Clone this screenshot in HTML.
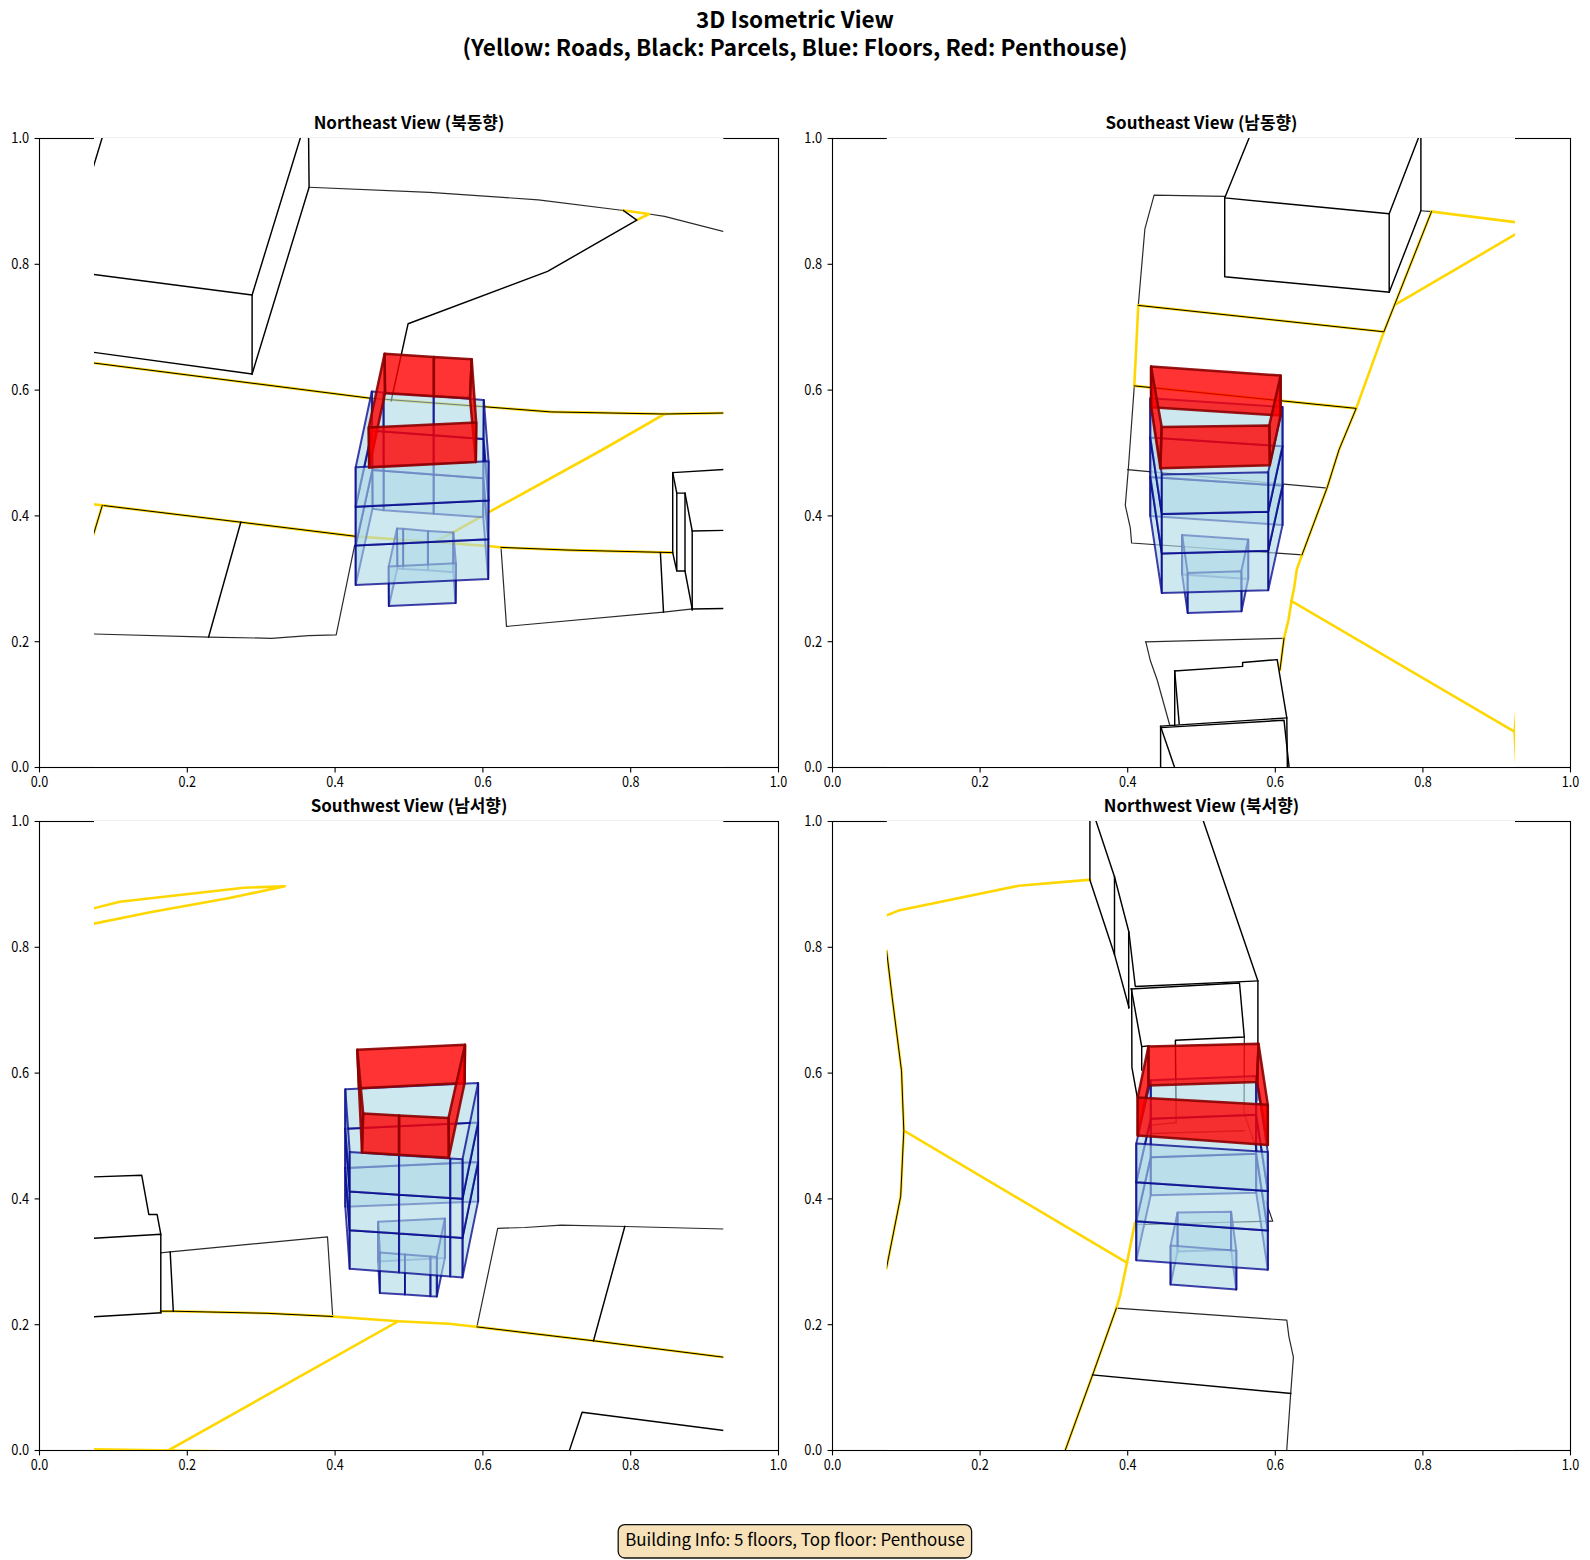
<!DOCTYPE html><html><head><meta charset="utf-8"><title>3D Isometric View</title><style>html,body{margin:0;padding:0;background:#fff;overflow:hidden}svg{display:block}</style></head><body><svg width="1590" height="1560" viewBox="0 0 1590 1560">
<style>.tk{font-family:"Noto Sans CJK KR", "Liberation Sans", sans-serif;font-size:14.85px;fill:#000}.st{font-family:"Noto Sans CJK KR", "Liberation Sans", sans-serif;font-size:16.95px;font-weight:bold;fill:#000}.tt{font-family:"Noto Sans CJK KR", "Liberation Sans", sans-serif;font-size:22.5px;font-weight:bold;fill:#000}.info{font-family:"Noto Sans CJK KR", "Liberation Sans", sans-serif;font-size:16.9px;fill:#000}</style>
<rect width="100%" height="100%" fill="#fff"/>
<text x="795" y="27.5" text-anchor="middle" class="tt">3D Isometric View</text>
<text x="795" y="55.8" text-anchor="middle" class="tt">(Yellow: Roads, Black: Parcels, Blue: Floors, Red: Penthouse)</text>
<rect x="39.5" y="138.5" width="739.0" height="629.0" fill="none" stroke="#000" stroke-width="1.1"/>
<line x1="39.5" y1="767.5" x2="39.5" y2="772.4" stroke="#000" stroke-width="1.1"/>
<line x1="34.6" y1="767.5" x2="39.5" y2="767.5" stroke="#000" stroke-width="1.1"/>
<text x="30.75" y="786.9" textLength="17.5" lengthAdjust="spacingAndGlyphs" class="tk">0.0</text>
<text x="11.30" y="772.3" textLength="17.8" lengthAdjust="spacingAndGlyphs" class="tk">0.0</text>
<line x1="187.3" y1="767.5" x2="187.3" y2="772.4" stroke="#000" stroke-width="1.1"/>
<line x1="34.6" y1="641.7" x2="39.5" y2="641.7" stroke="#000" stroke-width="1.1"/>
<text x="178.55" y="786.9" textLength="17.5" lengthAdjust="spacingAndGlyphs" class="tk">0.2</text>
<text x="11.30" y="646.5" textLength="17.8" lengthAdjust="spacingAndGlyphs" class="tk">0.2</text>
<line x1="335.1" y1="767.5" x2="335.1" y2="772.4" stroke="#000" stroke-width="1.1"/>
<line x1="34.6" y1="515.9" x2="39.5" y2="515.9" stroke="#000" stroke-width="1.1"/>
<text x="326.35" y="786.9" textLength="17.5" lengthAdjust="spacingAndGlyphs" class="tk">0.4</text>
<text x="11.30" y="520.7" textLength="17.8" lengthAdjust="spacingAndGlyphs" class="tk">0.4</text>
<line x1="482.9" y1="767.5" x2="482.9" y2="772.4" stroke="#000" stroke-width="1.1"/>
<line x1="34.6" y1="390.1" x2="39.5" y2="390.1" stroke="#000" stroke-width="1.1"/>
<text x="474.15" y="786.9" textLength="17.5" lengthAdjust="spacingAndGlyphs" class="tk">0.6</text>
<text x="11.30" y="394.9" textLength="17.8" lengthAdjust="spacingAndGlyphs" class="tk">0.6</text>
<line x1="630.7" y1="767.5" x2="630.7" y2="772.4" stroke="#000" stroke-width="1.1"/>
<line x1="34.6" y1="264.3" x2="39.5" y2="264.3" stroke="#000" stroke-width="1.1"/>
<text x="621.95" y="786.9" textLength="17.5" lengthAdjust="spacingAndGlyphs" class="tk">0.8</text>
<text x="11.30" y="269.1" textLength="17.8" lengthAdjust="spacingAndGlyphs" class="tk">0.8</text>
<line x1="778.5" y1="767.5" x2="778.5" y2="772.4" stroke="#000" stroke-width="1.1"/>
<line x1="34.6" y1="138.5" x2="39.5" y2="138.5" stroke="#000" stroke-width="1.1"/>
<text x="769.75" y="786.9" textLength="17.5" lengthAdjust="spacingAndGlyphs" class="tk">1.0</text>
<text x="11.30" y="143.3" textLength="17.8" lengthAdjust="spacingAndGlyphs" class="tk">1.0</text>
<rect x="94.0" y="138.0" width="629.3" height="629.0" fill="#fff"/>
<line x1="94.0" y1="137.5" x2="723.3" y2="137.5" stroke="#f0f0f0" stroke-width="1"/>
<text x="409.0" y="129.0" text-anchor="middle" class="st">Northeast View (북동향)</text>
<clipPath id="c00"><rect x="94.0" y="138.0" width="629.3" height="629.0"/></clipPath>
<g clip-path="url(#c00)" fill="none" stroke-linejoin="round" stroke-linecap="square"><polyline points="309.1,187.3 429.6,192.4 538.3,199.8 623.5,210.5 649.1,214.0 664.5,216.4 723.5,231.4" stroke="#2a2a2a" stroke-width="1.2" /><polyline points="94.0,634.0 208.6,637.1 271.5,638.3 308.5,635.6 336.2,634.8 354.6,545.4" stroke="#2a2a2a" stroke-width="1.2" /><polyline points="501.0,547.4 506.5,626.4 663.5,612.1 692.2,609.0" stroke="#2a2a2a" stroke-width="1.2" /><polyline points="623.5,210.5 649.1,214.0 636.8,220.1" stroke="#ffd700" stroke-width="2.6" /><polyline points="664.5,414.0 601.9,450.0 488.1,512.6 453.6,532.1 437.7,540.3" stroke="#ffd700" stroke-width="2.6" /><polyline points="93.0,504.3 102.3,505.4" stroke="#ffd700" stroke-width="2.6" /><polyline points="354.6,536.2 410.0,540.3 453.0,543.5 488.1,546.0 501.0,547.4" stroke="#ffd700" stroke-width="2.6" /><polyline points="93.5,363.0 370.0,398.2 485.0,406.8 550.6,411.9 664.5,414.0 723.5,413.0" stroke="#ffd700" stroke-width="2.6" /><polyline points="93.5,363.0 370.0,398.2 485.0,406.8 550.6,411.9 664.5,414.0 723.5,413.0" stroke="#000" stroke-width="1.0" /><polyline points="102.3,505.4 240.8,522.2 354.6,536.2" stroke="#ffd700" stroke-width="2.6" /><polyline points="102.3,505.4 240.8,522.2 354.6,536.2" stroke="#000" stroke-width="1.0" /><polyline points="501.0,547.4 569.1,550.1 672.7,552.6" stroke="#ffd700" stroke-width="2.6" /><polyline points="501.0,547.4 569.1,550.1 672.7,552.6" stroke="#000" stroke-width="1.0" /><polyline points="102.3,505.4 93.5,534.5" stroke="#ffd700" stroke-width="2.6" /><polyline points="102.3,505.4 93.5,534.5" stroke="#000" stroke-width="1.0" /><polyline points="104.5,130.0 93.5,166.4" stroke="#000" stroke-width="1.45" /><polyline points="93.5,274.4 252.1,295.0 252.1,374.0 93.5,352.3" stroke="#000" stroke-width="1.45" /><polyline points="252.1,295.0 302.8,130.0" stroke="#000" stroke-width="1.45" /><polyline points="252.1,374.0 309.1,187.3 308.5,130.0" stroke="#000" stroke-width="1.45" /><polyline points="623.5,210.5 636.8,220.1 547.6,271.4 408.1,323.7 391.2,400.8" stroke="#000" stroke-width="1.45" /><polyline points="240.8,522.2 208.6,637.1" stroke="#000" stroke-width="1.45" /><polyline points="660.4,552.6 663.5,612.1" stroke="#000" stroke-width="1.45" /><polyline points="723.5,469.5 672.7,472.6 672.7,552.6 676.8,571.0 685.0,571.0 685.0,493.1 676.8,493.1 676.8,571.0" stroke="#000" stroke-width="1.45" /><polyline points="672.7,472.6 676.8,493.1" stroke="#000" stroke-width="1.45" /><polyline points="685.0,493.1 692.2,531.0 723.5,530.4" stroke="#000" stroke-width="1.45" /><polyline points="685.0,571.0 692.2,609.0" stroke="#000" stroke-width="1.45" /><polyline points="692.2,531.0 692.2,610.0" stroke="#000" stroke-width="1.45" /><polyline points="692.2,609.0 723.5,608.5" stroke="#000" stroke-width="1.45" /><polygon points="483.4,478.2 433.6,474.5 433.6,513.8 483.2,517.2" fill="#add8e6" fill-opacity="0.6" stroke="#00008b" stroke-opacity="0.75" stroke-width="2.0" stroke-linejoin="round"/><polygon points="433.6,474.5 383.6,470.8 383.6,510.2 433.6,513.8" fill="#add8e6" fill-opacity="0.6" stroke="#00008b" stroke-opacity="0.75" stroke-width="2.0" stroke-linejoin="round"/><polygon points="383.6,470.8 372.3,469.9 372.5,508.8 383.6,510.2" fill="#add8e6" fill-opacity="0.6" stroke="#00008b" stroke-opacity="0.75" stroke-width="2.0" stroke-linejoin="round"/><polygon points="453.3,532.4 427.9,531.0 427.9,570.2 453.3,572.2" fill="#add8e6" fill-opacity="0.6" stroke="#00008b" stroke-opacity="0.75" stroke-width="2.0" stroke-linejoin="round"/><polygon points="427.9,531.0 403.1,528.7 403.1,569.0 427.9,570.2" fill="#add8e6" fill-opacity="0.6" stroke="#00008b" stroke-opacity="0.75" stroke-width="2.0" stroke-linejoin="round"/><polygon points="403.1,528.7 397.0,528.4 397.3,568.2 403.1,569.0" fill="#add8e6" fill-opacity="0.6" stroke="#00008b" stroke-opacity="0.75" stroke-width="2.0" stroke-linejoin="round"/><polygon points="483.6,439.1 433.6,435.3 433.6,474.5 483.4,478.2" fill="#add8e6" fill-opacity="0.6" stroke="#00008b" stroke-opacity="0.75" stroke-width="2.0" stroke-linejoin="round"/><polygon points="433.6,435.3 383.5,431.6 383.6,470.8 433.6,474.5" fill="#add8e6" fill-opacity="0.6" stroke="#00008b" stroke-opacity="0.75" stroke-width="2.0" stroke-linejoin="round"/><polygon points="383.5,431.6 372.0,430.7 372.3,469.9 383.6,470.8" fill="#add8e6" fill-opacity="0.6" stroke="#00008b" stroke-opacity="0.75" stroke-width="2.0" stroke-linejoin="round"/><polygon points="455.9,563.3 453.3,532.4 453.3,572.2 455.6,603.1" fill="#add8e6" fill-opacity="0.6" stroke="#00008b" stroke-opacity="0.75" stroke-width="2.0" stroke-linejoin="round"/><polygon points="397.0,528.4 388.7,566.5 388.9,606.0 397.3,568.2" fill="#add8e6" fill-opacity="0.6" stroke="#00008b" stroke-opacity="0.75" stroke-width="2.0" stroke-linejoin="round"/><polygon points="483.8,399.9 433.6,396.1 433.6,435.3 483.6,439.1" fill="#add8e6" fill-opacity="0.6" stroke="#00008b" stroke-opacity="0.75" stroke-width="2.0" stroke-linejoin="round"/><polygon points="433.6,396.1 383.5,392.4 383.5,431.6 433.6,435.3" fill="#add8e6" fill-opacity="0.6" stroke="#00008b" stroke-opacity="0.75" stroke-width="2.0" stroke-linejoin="round"/><polygon points="383.5,392.4 371.8,391.5 372.0,430.7 383.5,431.6" fill="#add8e6" fill-opacity="0.6" stroke="#00008b" stroke-opacity="0.75" stroke-width="2.0" stroke-linejoin="round"/><polygon points="388.7,566.5 455.9,563.3 455.6,603.1 388.9,606.0" fill="#add8e6" fill-opacity="0.6" stroke="#00008b" stroke-opacity="0.75" stroke-width="2.0" stroke-linejoin="round"/><polygon points="488.3,539.3 483.4,478.2 483.2,517.2 488.2,579.1" fill="#add8e6" fill-opacity="0.6" stroke="#00008b" stroke-opacity="0.75" stroke-width="2.0" stroke-linejoin="round"/><polygon points="372.3,469.9 355.7,545.5 355.7,584.9 372.5,508.8" fill="#add8e6" fill-opacity="0.6" stroke="#00008b" stroke-opacity="0.75" stroke-width="2.0" stroke-linejoin="round"/><polygon points="488.5,500.6 483.6,439.1 483.4,478.2 488.3,539.3" fill="#add8e6" fill-opacity="0.6" stroke="#00008b" stroke-opacity="0.75" stroke-width="2.0" stroke-linejoin="round"/><polygon points="372.0,430.7 355.7,506.8 355.7,545.5 372.3,469.9" fill="#add8e6" fill-opacity="0.6" stroke="#00008b" stroke-opacity="0.75" stroke-width="2.0" stroke-linejoin="round"/><polygon points="488.6,461.3 483.8,399.9 483.6,439.1 488.5,500.6" fill="#add8e6" fill-opacity="0.6" stroke="#00008b" stroke-opacity="0.75" stroke-width="2.0" stroke-linejoin="round"/><polygon points="371.8,391.5 355.7,467.3 355.7,506.8 372.0,430.7" fill="#add8e6" fill-opacity="0.6" stroke="#00008b" stroke-opacity="0.75" stroke-width="2.0" stroke-linejoin="round"/><polygon points="355.7,545.5 488.3,539.3 488.2,579.1 355.7,584.9" fill="#add8e6" fill-opacity="0.6" stroke="#00008b" stroke-opacity="0.75" stroke-width="2.0" stroke-linejoin="round"/><polygon points="355.7,506.8 488.5,500.6 488.3,539.3 355.7,545.5" fill="#add8e6" fill-opacity="0.6" stroke="#00008b" stroke-opacity="0.75" stroke-width="2.0" stroke-linejoin="round"/><polygon points="355.7,467.3 488.6,461.3 488.5,500.6 355.7,506.8" fill="#add8e6" fill-opacity="0.6" stroke="#00008b" stroke-opacity="0.75" stroke-width="2.0" stroke-linejoin="round"/><polygon points="471.7,359.3 433.8,356.9 433.8,396.3 470.0,398.3" fill="#ff0000" fill-opacity="0.8" stroke="#8b0000" stroke-opacity="0.9" stroke-width="2.5" stroke-linejoin="round"/><polygon points="433.8,356.9 384.6,353.8 385.0,393.3 433.8,396.3" fill="#ff0000" fill-opacity="0.8" stroke="#8b0000" stroke-opacity="0.9" stroke-width="2.5" stroke-linejoin="round"/><polygon points="476.2,422.5 471.7,359.3 470.0,398.3 475.8,462.1" fill="#ff0000" fill-opacity="0.8" stroke="#8b0000" stroke-opacity="0.9" stroke-width="2.5" stroke-linejoin="round"/><polygon points="384.6,353.8 368.8,427.5 369.2,467.5 385.0,393.3" fill="#ff0000" fill-opacity="0.8" stroke="#8b0000" stroke-opacity="0.9" stroke-width="2.5" stroke-linejoin="round"/><polygon points="368.8,427.5 476.2,422.5 475.8,462.1 369.2,467.5" fill="#ff0000" fill-opacity="0.8" stroke="#8b0000" stroke-opacity="0.9" stroke-width="2.5" stroke-linejoin="round"/></g>
<rect x="832.5" y="138.5" width="738.0" height="629.0" fill="none" stroke="#000" stroke-width="1.1"/>
<line x1="832.5" y1="767.5" x2="832.5" y2="772.4" stroke="#000" stroke-width="1.1"/>
<line x1="827.6" y1="767.5" x2="832.5" y2="767.5" stroke="#000" stroke-width="1.1"/>
<text x="823.75" y="786.9" textLength="17.5" lengthAdjust="spacingAndGlyphs" class="tk">0.0</text>
<text x="804.30" y="772.3" textLength="17.8" lengthAdjust="spacingAndGlyphs" class="tk">0.0</text>
<line x1="980.1" y1="767.5" x2="980.1" y2="772.4" stroke="#000" stroke-width="1.1"/>
<line x1="827.6" y1="641.7" x2="832.5" y2="641.7" stroke="#000" stroke-width="1.1"/>
<text x="971.35" y="786.9" textLength="17.5" lengthAdjust="spacingAndGlyphs" class="tk">0.2</text>
<text x="804.30" y="646.5" textLength="17.8" lengthAdjust="spacingAndGlyphs" class="tk">0.2</text>
<line x1="1127.7" y1="767.5" x2="1127.7" y2="772.4" stroke="#000" stroke-width="1.1"/>
<line x1="827.6" y1="515.9" x2="832.5" y2="515.9" stroke="#000" stroke-width="1.1"/>
<text x="1118.95" y="786.9" textLength="17.5" lengthAdjust="spacingAndGlyphs" class="tk">0.4</text>
<text x="804.30" y="520.7" textLength="17.8" lengthAdjust="spacingAndGlyphs" class="tk">0.4</text>
<line x1="1275.3" y1="767.5" x2="1275.3" y2="772.4" stroke="#000" stroke-width="1.1"/>
<line x1="827.6" y1="390.1" x2="832.5" y2="390.1" stroke="#000" stroke-width="1.1"/>
<text x="1266.55" y="786.9" textLength="17.5" lengthAdjust="spacingAndGlyphs" class="tk">0.6</text>
<text x="804.30" y="394.9" textLength="17.8" lengthAdjust="spacingAndGlyphs" class="tk">0.6</text>
<line x1="1422.9" y1="767.5" x2="1422.9" y2="772.4" stroke="#000" stroke-width="1.1"/>
<line x1="827.6" y1="264.3" x2="832.5" y2="264.3" stroke="#000" stroke-width="1.1"/>
<text x="1414.15" y="786.9" textLength="17.5" lengthAdjust="spacingAndGlyphs" class="tk">0.8</text>
<text x="804.30" y="269.1" textLength="17.8" lengthAdjust="spacingAndGlyphs" class="tk">0.8</text>
<line x1="1570.5" y1="767.5" x2="1570.5" y2="772.4" stroke="#000" stroke-width="1.1"/>
<line x1="827.6" y1="138.5" x2="832.5" y2="138.5" stroke="#000" stroke-width="1.1"/>
<text x="1561.75" y="786.9" textLength="17.5" lengthAdjust="spacingAndGlyphs" class="tk">1.0</text>
<text x="804.30" y="143.3" textLength="17.8" lengthAdjust="spacingAndGlyphs" class="tk">1.0</text>
<rect x="886.8" y="138.0" width="628.2" height="629.0" fill="#fff"/>
<line x1="886.8" y1="137.5" x2="1515.0" y2="137.5" stroke="#f0f0f0" stroke-width="1"/>
<text x="1201.5" y="129.0" text-anchor="middle" class="st">Southeast View (남동향)</text>
<clipPath id="c10"><rect x="886.8" y="138.0" width="628.2" height="629.0"/></clipPath>
<g clip-path="url(#c10)" fill="none" stroke-linejoin="round" stroke-linecap="square"><polyline points="1224.7,196.3 1154.1,195.2 1144.9,228.8 1138.3,305.4" stroke="#2a2a2a" stroke-width="1.2" /><polyline points="1420.9,210.8 1431.5,211.6" stroke="#2a2a2a" stroke-width="1.2" /><polyline points="1134.3,385.9 1128.2,470.5 1125.3,505.4 1130.3,527.9 1131.6,543.0 1302.0,554.9" stroke="#2a2a2a" stroke-width="1.2" /><polyline points="1127.7,469.6 1327.2,488.1" stroke="#2a2a2a" stroke-width="1.2" /><polyline points="1145.8,641.8 1284.0,638.3" stroke="#2a2a2a" stroke-width="1.2" /><polyline points="1145.8,641.8 1150.4,660.8 1157.2,680.0 1169.6,724.7" stroke="#2a2a2a" stroke-width="1.2" /><polyline points="1431.5,211.6 1516.0,222.3" stroke="#ffd700" stroke-width="2.6" /><polyline points="1516.0,234.0 1396.4,304.0" stroke="#ffd700" stroke-width="2.6" /><polyline points="1383.9,331.8 1356.2,408.4" stroke="#ffd700" stroke-width="2.6" /><polyline points="1138.3,305.4 1134.3,385.9" stroke="#ffd700" stroke-width="2.6" /><polyline points="1302.0,554.9 1296.8,569.4 1294.1,587.9 1291.5,601.1 1288.5,620.0 1284.0,638.3" stroke="#ffd700" stroke-width="2.6" /><polyline points="1291.5,601.1 1516.0,732.5" stroke="#ffd700" stroke-width="2.6" /><polyline points="1516.5,708.0 1514.6,732.5 1516.5,768.0" stroke="#ffd700" stroke-width="2.6" /><polyline points="1138.3,305.4 1383.9,331.8 1431.5,211.6" stroke="#ffd700" stroke-width="2.6" /><polyline points="1138.3,305.4 1383.9,331.8 1431.5,211.6" stroke="#000" stroke-width="1.0" /><polyline points="1134.3,385.9 1356.2,408.4 1339.0,449.8 1327.2,487.5 1302.0,554.9" stroke="#ffd700" stroke-width="2.6" /><polyline points="1134.3,385.9 1356.2,408.4 1339.0,449.8 1327.2,487.5 1302.0,554.9" stroke="#000" stroke-width="1.0" /><polyline points="1284.0,638.3 1280.0,669.8" stroke="#ffd700" stroke-width="2.6" /><polyline points="1284.0,638.3 1280.0,669.8" stroke="#000" stroke-width="1.0" /><polyline points="1252.3,130.0 1224.7,197.9 1389.2,213.7 1421.5,130.0" stroke="#000" stroke-width="1.45" /><polyline points="1420.9,130.0 1420.9,210.8 1389.2,292.2 1389.2,213.7" stroke="#000" stroke-width="1.45" /><polyline points="1224.7,197.9 1224.7,276.8 1389.2,292.2" stroke="#000" stroke-width="1.45" /><polyline points="1174.7,671.0 1242.6,666.4 1242.6,662.5 1277.2,659.6 1286.8,717.9 1287.4,770.0" stroke="#000" stroke-width="1.45" /><polyline points="1174.7,671.0 1174.7,725.5" stroke="#000" stroke-width="1.45" /><polyline points="1174.7,671.0 1179.2,723.8" stroke="#000" stroke-width="1.45" /><polyline points="1160.6,770.0 1160.6,726.1 1286.8,717.9" stroke="#000" stroke-width="1.45" /><polyline points="1160.6,726.4 1175.5,770.0" stroke="#000" stroke-width="1.45" /><polyline points="1161.7,727.6 1284.0,720.2 1289.4,770.0" stroke="#000" stroke-width="1.45" /><polygon points="1282.5,485.6 1150.3,476.9 1150.3,515.9 1282.5,525.1" fill="#add8e6" fill-opacity="0.6" stroke="#00008b" stroke-opacity="0.75" stroke-width="2.0" stroke-linejoin="round"/><polygon points="1248.2,539.5 1182.1,534.9 1182.1,574.4 1248.2,579.0" fill="#add8e6" fill-opacity="0.6" stroke="#00008b" stroke-opacity="0.75" stroke-width="2.0" stroke-linejoin="round"/><polygon points="1282.5,446.3 1150.3,437.6 1150.3,476.9 1282.5,485.6" fill="#add8e6" fill-opacity="0.6" stroke="#00008b" stroke-opacity="0.75" stroke-width="2.0" stroke-linejoin="round"/><polygon points="1241.3,571.3 1248.2,539.5 1248.2,579.0 1241.5,611.3" fill="#add8e6" fill-opacity="0.6" stroke="#00008b" stroke-opacity="0.75" stroke-width="2.0" stroke-linejoin="round"/><polygon points="1182.1,534.9 1187.7,572.9 1187.7,612.9 1182.1,574.4" fill="#add8e6" fill-opacity="0.6" stroke="#00008b" stroke-opacity="0.75" stroke-width="2.0" stroke-linejoin="round"/><polygon points="1282.5,407.0 1150.3,398.3 1150.3,437.6 1282.5,446.3" fill="#add8e6" fill-opacity="0.6" stroke="#00008b" stroke-opacity="0.75" stroke-width="2.0" stroke-linejoin="round"/><polygon points="1187.7,572.9 1241.3,571.3 1241.5,611.3 1187.7,612.9" fill="#add8e6" fill-opacity="0.6" stroke="#00008b" stroke-opacity="0.75" stroke-width="2.0" stroke-linejoin="round"/><polygon points="1268.2,550.8 1282.5,485.6 1282.5,525.1 1268.2,590.3" fill="#add8e6" fill-opacity="0.6" stroke="#00008b" stroke-opacity="0.75" stroke-width="2.0" stroke-linejoin="round"/><polygon points="1150.3,476.9 1161.8,553.4 1161.8,592.9 1150.3,515.9" fill="#add8e6" fill-opacity="0.6" stroke="#00008b" stroke-opacity="0.75" stroke-width="2.0" stroke-linejoin="round"/><polygon points="1268.2,511.8 1282.5,446.3 1282.5,485.6 1268.2,550.8" fill="#add8e6" fill-opacity="0.6" stroke="#00008b" stroke-opacity="0.75" stroke-width="2.0" stroke-linejoin="round"/><polygon points="1150.3,437.6 1161.8,513.9 1161.8,553.4 1150.3,476.9" fill="#add8e6" fill-opacity="0.6" stroke="#00008b" stroke-opacity="0.75" stroke-width="2.0" stroke-linejoin="round"/><polygon points="1268.2,472.3 1282.5,407.0 1282.5,446.3 1268.2,511.8" fill="#add8e6" fill-opacity="0.6" stroke="#00008b" stroke-opacity="0.75" stroke-width="2.0" stroke-linejoin="round"/><polygon points="1150.3,398.3 1161.8,474.4 1161.8,513.9 1150.3,437.6" fill="#add8e6" fill-opacity="0.6" stroke="#00008b" stroke-opacity="0.75" stroke-width="2.0" stroke-linejoin="round"/><polygon points="1161.8,553.4 1268.2,550.8 1268.2,590.3 1161.8,592.9" fill="#add8e6" fill-opacity="0.6" stroke="#00008b" stroke-opacity="0.75" stroke-width="2.0" stroke-linejoin="round"/><polygon points="1161.8,513.9 1268.2,511.8 1268.2,550.8 1161.8,553.4" fill="#add8e6" fill-opacity="0.6" stroke="#00008b" stroke-opacity="0.75" stroke-width="2.0" stroke-linejoin="round"/><polygon points="1161.8,474.4 1268.2,472.3 1268.2,511.8 1161.8,513.9" fill="#add8e6" fill-opacity="0.6" stroke="#00008b" stroke-opacity="0.75" stroke-width="2.0" stroke-linejoin="round"/><polygon points="1280.6,375.6 1151.1,366.6 1151.1,407.3 1280.6,415.5" fill="#ff0000" fill-opacity="0.8" stroke="#8b0000" stroke-opacity="0.9" stroke-width="2.5" stroke-linejoin="round"/><polygon points="1269.3,425.4 1280.6,375.6 1280.6,415.5 1269.8,465.2" fill="#ff0000" fill-opacity="0.8" stroke="#8b0000" stroke-opacity="0.9" stroke-width="2.5" stroke-linejoin="round"/><polygon points="1151.1,366.6 1161.7,427.0 1160.4,468.2 1151.1,407.3" fill="#ff0000" fill-opacity="0.8" stroke="#8b0000" stroke-opacity="0.9" stroke-width="2.5" stroke-linejoin="round"/><polygon points="1161.7,427.0 1269.3,425.4 1269.8,465.2 1160.4,468.2" fill="#ff0000" fill-opacity="0.8" stroke="#8b0000" stroke-opacity="0.9" stroke-width="2.5" stroke-linejoin="round"/></g>
<rect x="39.5" y="821.5" width="739.0" height="629.0" fill="none" stroke="#000" stroke-width="1.1"/>
<line x1="39.5" y1="1450.5" x2="39.5" y2="1455.4" stroke="#000" stroke-width="1.1"/>
<line x1="34.6" y1="1450.5" x2="39.5" y2="1450.5" stroke="#000" stroke-width="1.1"/>
<text x="30.75" y="1469.9" textLength="17.5" lengthAdjust="spacingAndGlyphs" class="tk">0.0</text>
<text x="11.30" y="1455.3" textLength="17.8" lengthAdjust="spacingAndGlyphs" class="tk">0.0</text>
<line x1="187.3" y1="1450.5" x2="187.3" y2="1455.4" stroke="#000" stroke-width="1.1"/>
<line x1="34.6" y1="1324.7" x2="39.5" y2="1324.7" stroke="#000" stroke-width="1.1"/>
<text x="178.55" y="1469.9" textLength="17.5" lengthAdjust="spacingAndGlyphs" class="tk">0.2</text>
<text x="11.30" y="1329.5" textLength="17.8" lengthAdjust="spacingAndGlyphs" class="tk">0.2</text>
<line x1="335.1" y1="1450.5" x2="335.1" y2="1455.4" stroke="#000" stroke-width="1.1"/>
<line x1="34.6" y1="1198.9" x2="39.5" y2="1198.9" stroke="#000" stroke-width="1.1"/>
<text x="326.35" y="1469.9" textLength="17.5" lengthAdjust="spacingAndGlyphs" class="tk">0.4</text>
<text x="11.30" y="1203.7" textLength="17.8" lengthAdjust="spacingAndGlyphs" class="tk">0.4</text>
<line x1="482.9" y1="1450.5" x2="482.9" y2="1455.4" stroke="#000" stroke-width="1.1"/>
<line x1="34.6" y1="1073.1" x2="39.5" y2="1073.1" stroke="#000" stroke-width="1.1"/>
<text x="474.15" y="1469.9" textLength="17.5" lengthAdjust="spacingAndGlyphs" class="tk">0.6</text>
<text x="11.30" y="1077.9" textLength="17.8" lengthAdjust="spacingAndGlyphs" class="tk">0.6</text>
<line x1="630.7" y1="1450.5" x2="630.7" y2="1455.4" stroke="#000" stroke-width="1.1"/>
<line x1="34.6" y1="947.3" x2="39.5" y2="947.3" stroke="#000" stroke-width="1.1"/>
<text x="621.95" y="1469.9" textLength="17.5" lengthAdjust="spacingAndGlyphs" class="tk">0.8</text>
<text x="11.30" y="952.1" textLength="17.8" lengthAdjust="spacingAndGlyphs" class="tk">0.8</text>
<line x1="778.5" y1="1450.5" x2="778.5" y2="1455.4" stroke="#000" stroke-width="1.1"/>
<line x1="34.6" y1="821.5" x2="39.5" y2="821.5" stroke="#000" stroke-width="1.1"/>
<text x="769.75" y="1469.9" textLength="17.5" lengthAdjust="spacingAndGlyphs" class="tk">1.0</text>
<text x="11.30" y="826.3" textLength="17.8" lengthAdjust="spacingAndGlyphs" class="tk">1.0</text>
<rect x="94.0" y="821.0" width="629.3" height="629.0" fill="#fff"/>
<line x1="94.0" y1="820.5" x2="723.3" y2="820.5" stroke="#f0f0f0" stroke-width="1"/>
<text x="409.0" y="812.0" text-anchor="middle" class="st">Southwest View (남서향)</text>
<clipPath id="c01"><rect x="94.0" y="821.0" width="629.3" height="629.0"/></clipPath>
<g clip-path="url(#c01)" fill="none" stroke-linejoin="round" stroke-linecap="square"><polyline points="160.8,1252.9 170.2,1251.9 327.5,1236.9 332.7,1316.5" stroke="#2a2a2a" stroke-width="1.2" /><polyline points="476.9,1326.9 497.7,1228.3 524.8,1227.5 561.2,1225.2 624.8,1226.5 723.5,1229.0" stroke="#2a2a2a" stroke-width="1.2" /><polyline points="93.0,908.5 119.7,901.7 243.8,887.7 284.9,886.3 229.5,898.0 151.5,912.0 93.0,923.8" stroke="#ffd700" stroke-width="2.6" /><polyline points="332.7,1316.5 398.3,1321.2 448.8,1323.8 476.9,1326.9" stroke="#ffd700" stroke-width="2.6" /><polyline points="398.3,1321.2 168.5,1450.3" stroke="#ffd700" stroke-width="2.6" /><polyline points="93.0,1449.4 232.0,1451.4" stroke="#ffd700" stroke-width="2.6" /><polyline points="160.8,1311.2 173.3,1311.2 267.1,1313.3 332.7,1316.5" stroke="#ffd700" stroke-width="2.6" /><polyline points="160.8,1311.2 173.3,1311.2 267.1,1313.3 332.7,1316.5" stroke="#000" stroke-width="1.0" /><polyline points="476.9,1326.9 593.5,1340.8 723.5,1357.2" stroke="#ffd700" stroke-width="2.6" /><polyline points="476.9,1326.9 593.5,1340.8 723.5,1357.2" stroke="#000" stroke-width="1.0" /><polyline points="93.0,1176.9 141.7,1175.2 148.8,1214.4 157.1,1214.4 160.8,1234.2" stroke="#000" stroke-width="1.45" /><polyline points="93.0,1238.3 160.8,1234.2 160.8,1312.7" stroke="#000" stroke-width="1.45" /><polyline points="93.0,1316.9 160.8,1312.7" stroke="#000" stroke-width="1.45" /><polyline points="170.2,1251.9 173.3,1311.2" stroke="#000" stroke-width="1.45" /><polyline points="624.8,1226.5 593.5,1340.8" stroke="#000" stroke-width="1.45" /><polyline points="568.9,1452.0 582.1,1412.3 723.5,1430.4" stroke="#000" stroke-width="1.45" /><polygon points="478.1,1161.9 345.3,1167.9 345.3,1206.8 478.1,1201.4" fill="#add8e6" fill-opacity="0.6" stroke="#00008b" stroke-opacity="0.75" stroke-width="2.0" stroke-linejoin="round"/><polygon points="444.9,1218.5 378.1,1221.7 378.1,1261.6 444.9,1258.0" fill="#add8e6" fill-opacity="0.6" stroke="#00008b" stroke-opacity="0.75" stroke-width="2.0" stroke-linejoin="round"/><polygon points="478.1,1122.4 345.3,1128.7 345.3,1167.9 478.1,1161.9" fill="#add8e6" fill-opacity="0.6" stroke="#00008b" stroke-opacity="0.75" stroke-width="2.0" stroke-linejoin="round"/><polygon points="436.8,1257.1 444.9,1218.5 444.9,1258.0 436.8,1296.6" fill="#add8e6" fill-opacity="0.6" stroke="#00008b" stroke-opacity="0.75" stroke-width="2.0" stroke-linejoin="round"/><polygon points="378.1,1221.7 379.9,1252.6 379.9,1293.0 378.1,1261.6" fill="#add8e6" fill-opacity="0.6" stroke="#00008b" stroke-opacity="0.75" stroke-width="2.0" stroke-linejoin="round"/><polygon points="478.1,1083.0 345.3,1089.2 345.3,1128.7 478.1,1122.4" fill="#add8e6" fill-opacity="0.6" stroke="#00008b" stroke-opacity="0.75" stroke-width="2.0" stroke-linejoin="round"/><polygon points="379.9,1252.6 405.0,1254.6 405.0,1294.6 379.9,1293.0" fill="#add8e6" fill-opacity="0.6" stroke="#00008b" stroke-opacity="0.75" stroke-width="2.0" stroke-linejoin="round"/><polygon points="405.0,1254.6 430.5,1256.6 430.5,1296.2 405.0,1294.6" fill="#add8e6" fill-opacity="0.6" stroke="#00008b" stroke-opacity="0.75" stroke-width="2.0" stroke-linejoin="round"/><polygon points="430.5,1256.6 436.8,1257.1 436.8,1296.6 430.5,1296.2" fill="#add8e6" fill-opacity="0.6" stroke="#00008b" stroke-opacity="0.75" stroke-width="2.0" stroke-linejoin="round"/><polygon points="462.5,1237.9 478.1,1161.9 478.1,1201.4 462.5,1277.4" fill="#add8e6" fill-opacity="0.6" stroke="#00008b" stroke-opacity="0.75" stroke-width="2.0" stroke-linejoin="round"/><polygon points="345.3,1167.9 349.7,1230.2 349.7,1268.8 345.3,1206.8" fill="#add8e6" fill-opacity="0.6" stroke="#00008b" stroke-opacity="0.75" stroke-width="2.0" stroke-linejoin="round"/><polygon points="462.5,1198.7 478.1,1122.4 478.1,1161.9 462.5,1237.9" fill="#add8e6" fill-opacity="0.6" stroke="#00008b" stroke-opacity="0.75" stroke-width="2.0" stroke-linejoin="round"/><polygon points="345.3,1128.7 349.7,1191.6 349.7,1230.2 345.3,1167.9" fill="#add8e6" fill-opacity="0.6" stroke="#00008b" stroke-opacity="0.75" stroke-width="2.0" stroke-linejoin="round"/><polygon points="462.5,1159.3 478.1,1083.0 478.1,1122.4 462.5,1198.7" fill="#add8e6" fill-opacity="0.6" stroke="#00008b" stroke-opacity="0.75" stroke-width="2.0" stroke-linejoin="round"/><polygon points="345.3,1089.2 349.7,1152.1 349.7,1191.6 345.3,1128.7" fill="#add8e6" fill-opacity="0.6" stroke="#00008b" stroke-opacity="0.75" stroke-width="2.0" stroke-linejoin="round"/><polygon points="349.7,1230.2 399.1,1233.6 399.1,1272.6 349.7,1268.8" fill="#add8e6" fill-opacity="0.6" stroke="#00008b" stroke-opacity="0.75" stroke-width="2.0" stroke-linejoin="round"/><polygon points="399.1,1233.6 450.3,1237.1 450.3,1276.5 399.1,1272.6" fill="#add8e6" fill-opacity="0.6" stroke="#00008b" stroke-opacity="0.75" stroke-width="2.0" stroke-linejoin="round"/><polygon points="450.3,1237.1 462.5,1237.9 462.5,1277.4 450.3,1276.5" fill="#add8e6" fill-opacity="0.6" stroke="#00008b" stroke-opacity="0.75" stroke-width="2.0" stroke-linejoin="round"/><polygon points="349.7,1191.6 399.1,1194.7 399.1,1233.6 349.7,1230.2" fill="#add8e6" fill-opacity="0.6" stroke="#00008b" stroke-opacity="0.75" stroke-width="2.0" stroke-linejoin="round"/><polygon points="399.1,1194.7 450.3,1197.9 450.3,1237.1 399.1,1233.6" fill="#add8e6" fill-opacity="0.6" stroke="#00008b" stroke-opacity="0.75" stroke-width="2.0" stroke-linejoin="round"/><polygon points="450.3,1197.9 462.5,1198.7 462.5,1237.9 450.3,1237.1" fill="#add8e6" fill-opacity="0.6" stroke="#00008b" stroke-opacity="0.75" stroke-width="2.0" stroke-linejoin="round"/><polygon points="349.7,1152.1 399.1,1155.3 399.1,1194.7 349.7,1191.6" fill="#add8e6" fill-opacity="0.6" stroke="#00008b" stroke-opacity="0.75" stroke-width="2.0" stroke-linejoin="round"/><polygon points="399.1,1155.3 450.3,1158.5 450.3,1197.9 399.1,1194.7" fill="#add8e6" fill-opacity="0.6" stroke="#00008b" stroke-opacity="0.75" stroke-width="2.0" stroke-linejoin="round"/><polygon points="450.3,1158.5 462.5,1159.3 462.5,1198.7 450.3,1197.9" fill="#add8e6" fill-opacity="0.6" stroke="#00008b" stroke-opacity="0.75" stroke-width="2.0" stroke-linejoin="round"/><polygon points="465.0,1044.7 357.3,1049.7 359.0,1088.3 464.6,1083.0" fill="#ff0000" fill-opacity="0.8" stroke="#8b0000" stroke-opacity="0.9" stroke-width="2.5" stroke-linejoin="round"/><polygon points="448.5,1118.0 465.0,1044.7 464.6,1083.0 448.8,1157.8" fill="#ff0000" fill-opacity="0.8" stroke="#8b0000" stroke-opacity="0.9" stroke-width="2.5" stroke-linejoin="round"/><polygon points="357.3,1049.7 363.2,1113.5 362.0,1152.4 359.0,1088.3" fill="#ff0000" fill-opacity="0.8" stroke="#8b0000" stroke-opacity="0.9" stroke-width="2.5" stroke-linejoin="round"/><polygon points="363.2,1113.5 399.1,1115.4 399.1,1154.7 362.0,1152.4" fill="#ff0000" fill-opacity="0.8" stroke="#8b0000" stroke-opacity="0.9" stroke-width="2.5" stroke-linejoin="round"/><polygon points="399.1,1115.4 448.5,1118.0 448.8,1157.8 399.1,1154.7" fill="#ff0000" fill-opacity="0.8" stroke="#8b0000" stroke-opacity="0.9" stroke-width="2.5" stroke-linejoin="round"/></g>
<rect x="832.5" y="821.5" width="738.0" height="629.0" fill="none" stroke="#000" stroke-width="1.1"/>
<line x1="832.5" y1="1450.5" x2="832.5" y2="1455.4" stroke="#000" stroke-width="1.1"/>
<line x1="827.6" y1="1450.5" x2="832.5" y2="1450.5" stroke="#000" stroke-width="1.1"/>
<text x="823.75" y="1469.9" textLength="17.5" lengthAdjust="spacingAndGlyphs" class="tk">0.0</text>
<text x="804.30" y="1455.3" textLength="17.8" lengthAdjust="spacingAndGlyphs" class="tk">0.0</text>
<line x1="980.1" y1="1450.5" x2="980.1" y2="1455.4" stroke="#000" stroke-width="1.1"/>
<line x1="827.6" y1="1324.7" x2="832.5" y2="1324.7" stroke="#000" stroke-width="1.1"/>
<text x="971.35" y="1469.9" textLength="17.5" lengthAdjust="spacingAndGlyphs" class="tk">0.2</text>
<text x="804.30" y="1329.5" textLength="17.8" lengthAdjust="spacingAndGlyphs" class="tk">0.2</text>
<line x1="1127.7" y1="1450.5" x2="1127.7" y2="1455.4" stroke="#000" stroke-width="1.1"/>
<line x1="827.6" y1="1198.9" x2="832.5" y2="1198.9" stroke="#000" stroke-width="1.1"/>
<text x="1118.95" y="1469.9" textLength="17.5" lengthAdjust="spacingAndGlyphs" class="tk">0.4</text>
<text x="804.30" y="1203.7" textLength="17.8" lengthAdjust="spacingAndGlyphs" class="tk">0.4</text>
<line x1="1275.3" y1="1450.5" x2="1275.3" y2="1455.4" stroke="#000" stroke-width="1.1"/>
<line x1="827.6" y1="1073.1" x2="832.5" y2="1073.1" stroke="#000" stroke-width="1.1"/>
<text x="1266.55" y="1469.9" textLength="17.5" lengthAdjust="spacingAndGlyphs" class="tk">0.6</text>
<text x="804.30" y="1077.9" textLength="17.8" lengthAdjust="spacingAndGlyphs" class="tk">0.6</text>
<line x1="1422.9" y1="1450.5" x2="1422.9" y2="1455.4" stroke="#000" stroke-width="1.1"/>
<line x1="827.6" y1="947.3" x2="832.5" y2="947.3" stroke="#000" stroke-width="1.1"/>
<text x="1414.15" y="1469.9" textLength="17.5" lengthAdjust="spacingAndGlyphs" class="tk">0.8</text>
<text x="804.30" y="952.1" textLength="17.8" lengthAdjust="spacingAndGlyphs" class="tk">0.8</text>
<line x1="1570.5" y1="1450.5" x2="1570.5" y2="1455.4" stroke="#000" stroke-width="1.1"/>
<line x1="827.6" y1="821.5" x2="832.5" y2="821.5" stroke="#000" stroke-width="1.1"/>
<text x="1561.75" y="1469.9" textLength="17.5" lengthAdjust="spacingAndGlyphs" class="tk">1.0</text>
<text x="804.30" y="826.3" textLength="17.8" lengthAdjust="spacingAndGlyphs" class="tk">1.0</text>
<rect x="886.8" y="821.0" width="628.2" height="629.0" fill="#fff"/>
<line x1="886.8" y1="820.5" x2="1515.0" y2="820.5" stroke="#f0f0f0" stroke-width="1"/>
<text x="1201.5" y="812.0" text-anchor="middle" class="st">Northwest View (북서향)</text>
<clipPath id="c11"><rect x="886.8" y="821.0" width="628.2" height="629.0"/></clipPath>
<g clip-path="url(#c11)" fill="none" stroke-linejoin="round" stroke-linecap="square"><polyline points="1116.4,1308.1 1286.8,1320.2 1288.9,1336.6 1293.4,1357.2 1290.7,1393.4 1286.6,1452.0" stroke="#2a2a2a" stroke-width="1.2" /><polyline points="1136.0,1224.7 1272.7,1221.2 1265.8,1201.3" stroke="#2a2a2a" stroke-width="1.2" /><polyline points="1244.3,1037.0 1244.1,1113.0 1257.1,1151.0" stroke="#2a2a2a" stroke-width="1.2" /><polyline points="886.0,915.6 898.5,910.6 1018.7,885.8 1090.0,879.7" stroke="#ffd700" stroke-width="2.6" /><polyline points="903.8,1130.6 1127.0,1262.6" stroke="#ffd700" stroke-width="2.6" /><polyline points="1134.9,1223.0 1127.0,1262.6 1120.4,1294.3 1116.4,1308.1" stroke="#ffd700" stroke-width="2.6" /><polyline points="886.6,951.0 892.2,997.6 901.5,1070.7 903.8,1130.6 900.7,1196.3 886.4,1268.5" stroke="#ffd700" stroke-width="2.6" /><polyline points="886.6,951.0 892.2,997.6 901.5,1070.7 903.8,1130.6 900.7,1196.3 886.4,1268.5" stroke="#000" stroke-width="1.0" /><polyline points="1116.4,1308.1 1092.6,1374.9 1064.6,1452.0" stroke="#ffd700" stroke-width="2.6" /><polyline points="1116.4,1308.1 1092.6,1374.9 1064.6,1452.0" stroke="#000" stroke-width="1.0" /><polyline points="1089.9,815.0 1089.9,879.9 1114.5,954.4 1128.9,1007.3" stroke="#000" stroke-width="1.45" /><polyline points="1094.0,815.0 1114.5,876.7 1114.5,954.4" stroke="#000" stroke-width="1.45" /><polyline points="1114.5,876.7 1128.9,932.0 1135.3,986.5 1257.9,980.9" stroke="#000" stroke-width="1.45" /><polyline points="1128.7,932.0 1128.7,1008.0" stroke="#000" stroke-width="1.45" /><polyline points="1201.3,815.0 1257.9,980.9 1257.9,1100.0" stroke="#000" stroke-width="1.45" /><polyline points="1131.3,988.9 1239.5,983.0 1244.3,1037.0 1175.4,1040.2 1176.2,1122.0" stroke="#000" stroke-width="1.45" /><polyline points="1131.3,988.9 1141.7,1046.6 1148.9,1045.8" stroke="#000" stroke-width="1.45" /><polyline points="1131.7,989.2 1131.9,1067.3 1137.3,1097.5" stroke="#000" stroke-width="1.45" /><polyline points="1141.7,1046.6 1141.7,1070.0" stroke="#000" stroke-width="1.45" /><polyline points="1176.2,1122.5 1150.0,1125.3" stroke="#000" stroke-width="1.45" /><polyline points="1151.0,1133.5 1244.0,1130.7" stroke="#000" stroke-width="1.45" /><polyline points="1092.6,1374.9 1290.7,1393.4" stroke="#000" stroke-width="1.45" /><polygon points="1256.2,1153.7 1150.7,1157.2 1150.7,1195.3 1256.2,1192.7" fill="#add8e6" fill-opacity="0.6" stroke="#00008b" stroke-opacity="0.75" stroke-width="2.0" stroke-linejoin="round"/><polygon points="1231.1,1211.7 1177.5,1212.6 1177.5,1251.5 1231.1,1249.8" fill="#add8e6" fill-opacity="0.6" stroke="#00008b" stroke-opacity="0.75" stroke-width="2.0" stroke-linejoin="round"/><polygon points="1256.2,1114.8 1150.7,1118.8 1150.7,1157.2 1256.2,1153.7" fill="#add8e6" fill-opacity="0.6" stroke="#00008b" stroke-opacity="0.75" stroke-width="2.0" stroke-linejoin="round"/><polygon points="1236.3,1250.7 1231.1,1211.7 1231.1,1249.8 1236.3,1289.6" fill="#add8e6" fill-opacity="0.6" stroke="#00008b" stroke-opacity="0.75" stroke-width="2.0" stroke-linejoin="round"/><polygon points="1177.5,1212.6 1170.6,1245.5 1170.6,1284.4 1177.5,1251.5" fill="#add8e6" fill-opacity="0.6" stroke="#00008b" stroke-opacity="0.75" stroke-width="2.0" stroke-linejoin="round"/><polygon points="1256.2,1075.9 1150.7,1080.2 1150.7,1118.8 1256.2,1114.8" fill="#add8e6" fill-opacity="0.6" stroke="#00008b" stroke-opacity="0.75" stroke-width="2.0" stroke-linejoin="round"/><polygon points="1170.6,1245.5 1236.3,1250.7 1236.3,1289.6 1170.6,1284.4" fill="#add8e6" fill-opacity="0.6" stroke="#00008b" stroke-opacity="0.75" stroke-width="2.0" stroke-linejoin="round"/><polygon points="1267.8,1230.4 1256.2,1153.7 1256.2,1192.7 1267.8,1269.7" fill="#add8e6" fill-opacity="0.6" stroke="#00008b" stroke-opacity="0.75" stroke-width="2.0" stroke-linejoin="round"/><polygon points="1150.7,1157.2 1136.3,1221.2 1136.3,1260.2 1150.7,1195.3" fill="#add8e6" fill-opacity="0.6" stroke="#00008b" stroke-opacity="0.75" stroke-width="2.0" stroke-linejoin="round"/><polygon points="1267.8,1191.0 1256.2,1114.8 1256.2,1153.7 1267.8,1230.4" fill="#add8e6" fill-opacity="0.6" stroke="#00008b" stroke-opacity="0.75" stroke-width="2.0" stroke-linejoin="round"/><polygon points="1150.7,1118.8 1136.3,1182.3 1136.3,1221.2 1150.7,1157.2" fill="#add8e6" fill-opacity="0.6" stroke="#00008b" stroke-opacity="0.75" stroke-width="2.0" stroke-linejoin="round"/><polygon points="1267.8,1152.0 1256.2,1075.9 1256.2,1114.8 1267.8,1191.0" fill="#add8e6" fill-opacity="0.6" stroke="#00008b" stroke-opacity="0.75" stroke-width="2.0" stroke-linejoin="round"/><polygon points="1150.7,1080.2 1136.3,1143.4 1136.3,1182.3 1150.7,1118.8" fill="#add8e6" fill-opacity="0.6" stroke="#00008b" stroke-opacity="0.75" stroke-width="2.0" stroke-linejoin="round"/><polygon points="1136.3,1221.2 1267.8,1230.4 1267.8,1269.7 1136.3,1260.2" fill="#add8e6" fill-opacity="0.6" stroke="#00008b" stroke-opacity="0.75" stroke-width="2.0" stroke-linejoin="round"/><polygon points="1136.3,1182.3 1267.8,1191.0 1267.8,1230.4 1136.3,1221.2" fill="#add8e6" fill-opacity="0.6" stroke="#00008b" stroke-opacity="0.75" stroke-width="2.0" stroke-linejoin="round"/><polygon points="1136.3,1143.4 1267.8,1152.0 1267.8,1191.0 1136.3,1182.3" fill="#add8e6" fill-opacity="0.6" stroke="#00008b" stroke-opacity="0.75" stroke-width="2.0" stroke-linejoin="round"/><polygon points="1258.5,1043.8 1148.4,1046.4 1148.4,1085.4 1257.1,1081.9" fill="#ff0000" fill-opacity="0.8" stroke="#8b0000" stroke-opacity="0.9" stroke-width="2.5" stroke-linejoin="round"/><polygon points="1267.8,1104.8 1258.5,1043.8 1257.1,1081.9 1267.8,1145.1" fill="#ff0000" fill-opacity="0.8" stroke="#8b0000" stroke-opacity="0.9" stroke-width="2.5" stroke-linejoin="round"/><polygon points="1148.4,1046.4 1137.7,1097.5 1137.7,1135.6 1148.4,1085.4" fill="#ff0000" fill-opacity="0.8" stroke="#8b0000" stroke-opacity="0.9" stroke-width="2.5" stroke-linejoin="round"/><polygon points="1137.7,1097.5 1267.8,1104.8 1267.8,1145.1 1137.7,1135.6" fill="#ff0000" fill-opacity="0.8" stroke="#8b0000" stroke-opacity="0.9" stroke-width="2.5" stroke-linejoin="round"/></g>
<rect x="618.2" y="1524.6" width="353.4" height="33.4" rx="6.5" ry="6.5" fill="#f5deb3" fill-opacity="0.92" stroke="#111" stroke-width="1.3"/>
<text x="795" y="1546" text-anchor="middle" class="info">Building Info: 5 floors, Top floor: Penthouse</text>
</svg></body></html>
